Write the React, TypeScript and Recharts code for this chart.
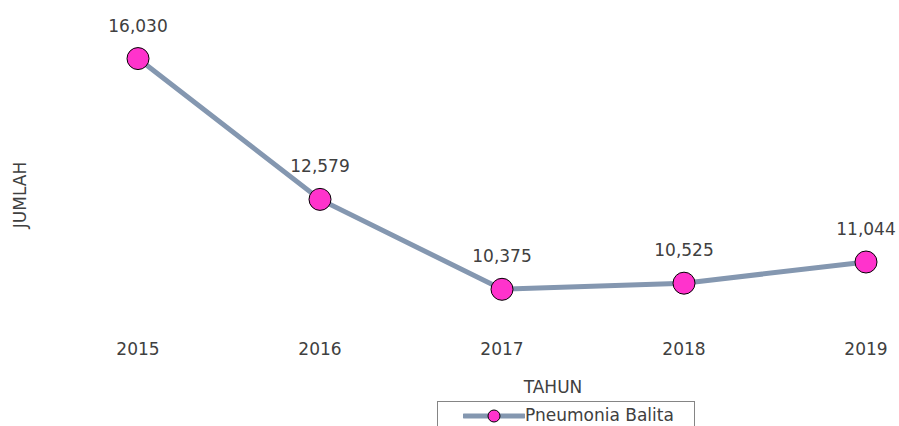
import { LineChart, Line, XAxis, YAxis, Legend, LabelList } from 'recharts';

const years = ['2015', '2016', '2017', '2018', '2019'];
const pneumoniaBalita = [16030, 12579, 10375, 10525, 11044];
const seriesName = 'Pneumonia Balita';

const chartData = years.map((year, i) => ({ year, value: pneumoniaBalita[i] }));

const FONT = '"DejaVu Sans", Verdana, sans-serif';
const TEXT_COLOR = '#404040';
const LINE_COLOR = '#8497B0';
const DOT_COLOR = '#FF33CC';

const formatValue = (v: number): string => v.toLocaleString('en-US');

const ValueLabel = (props: any) => {
  const { x, y, value } = props;
  return (
    <text x={x} y={y - 27} textAnchor="middle" fill={TEXT_COLOR} fontSize={17} fontFamily={FONT}>
      {formatValue(value)}
    </text>
  );
};

const LegendBox = () => (
  <div
    style={{
      width: 258,
      height: 40,
      border: '1px solid #858585',
      boxSizing: 'border-box',
      fontFamily: FONT,
      fontSize: 17,
      color: TEXT_COLOR,
      display: 'flex',
      alignItems: 'flex-start',
      paddingTop: 2,
      paddingLeft: 25,
      background: '#fff'
    }}
  >
    <svg width={62} height={20} style={{ marginTop: 1 }}>
      <line x1={1} y1={11} x2={61} y2={11} stroke={LINE_COLOR} strokeWidth={5} strokeLinecap="round" />
      <circle cx={31} cy={11} r={6} fill={DOT_COLOR} stroke="#000" strokeWidth={1} />
    </svg>
    <span style={{ lineHeight: '22px' }}>{seriesName}</span>
  </div>
);

export default function App() {
  return (
    <div style={{ position: 'absolute', left: 0, top: 0, width: 899, height: 426, overflow: 'hidden', background: '#fff' }}>
      <LineChart width={899} height={426} data={chartData} margin={{ top: 19, right: 33, bottom: 71, left: 0 }}>
        <XAxis
          dataKey="year"
          axisLine={false}
          tickLine={false}
          tickMargin={12}
          height={30}
          padding={{ left: 0, right: 0 }}
          tick={{ fill: TEXT_COLOR, fontSize: 17, fontFamily: FONT }}
          label={{
            content: () => (
              <text x={553} y={393} textAnchor="middle" fill={TEXT_COLOR} fontSize={17} fontFamily={FONT}>
                TAHUN
              </text>
            )
          }}
        />
        <YAxis
          width={138}
          domain={[9500, 17000]}
          allowDataOverflow
          tick={false}
          axisLine={false}
          tickLine={false}
          label={{
            content: () => (
              <text
                x={26}
                y={195}
                transform="rotate(-90 26 195)"
                textAnchor="middle"
                fill={TEXT_COLOR}
                fontSize={17}
                fontFamily={FONT}
              >
                JUMLAH
              </text>
            )
          }}
        />
        <Legend
          layout="horizontal"
          verticalAlign="middle"
          align="center"
          content={() => <LegendBox />}
          wrapperStyle={{ position: 'absolute', left: 437, top: 401, width: 258, height: 40 }}
        />
        <Line
          type="linear"
          dataKey="value"
          name={seriesName}
          stroke={LINE_COLOR}
          strokeWidth={5}
          dot={{ r: 11, fill: DOT_COLOR, stroke: '#000', strokeWidth: 1 }}
          activeDot={false}
          isAnimationActive={false}
        >
          <LabelList dataKey="value" content={ValueLabel} />
        </Line>
      </LineChart>
    </div>
  );
}
